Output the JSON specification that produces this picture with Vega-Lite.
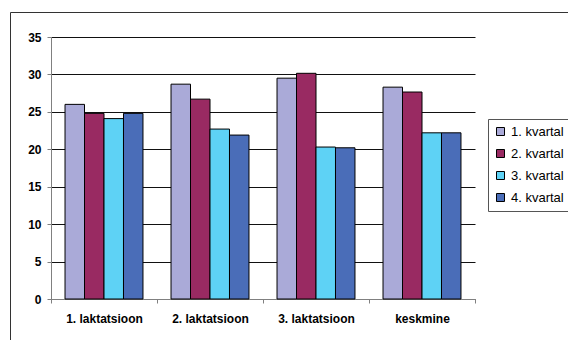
{
  "$schema": "https://vega.github.io/schema/vega-lite/v6.json",
  "width": 600,
  "height": 360,
  "autosize": {"type": "none"},
  "padding": {"left": 10, "top": 12, "right": 0, "bottom": 0},
  "background": "white",
  "config": {
    "view": {"stroke": "#333333", "strokeWidth": 1},
    "font": "Liberation Sans"
  },
  "data": {
    "values": [
      {"grupp": "1. laktatsioon", "kvartal": "1. kvartal", "vaartus": 26.0},
      {"grupp": "1. laktatsioon", "kvartal": "2. kvartal", "vaartus": 24.8},
      {"grupp": "1. laktatsioon", "kvartal": "3. kvartal", "vaartus": 24.1},
      {"grupp": "1. laktatsioon", "kvartal": "4. kvartal", "vaartus": 24.8},
      {"grupp": "2. laktatsioon", "kvartal": "1. kvartal", "vaartus": 28.7},
      {"grupp": "2. laktatsioon", "kvartal": "2. kvartal", "vaartus": 26.7},
      {"grupp": "2. laktatsioon", "kvartal": "3. kvartal", "vaartus": 22.7},
      {"grupp": "2. laktatsioon", "kvartal": "4. kvartal", "vaartus": 21.9},
      {"grupp": "3. laktatsioon", "kvartal": "1. kvartal", "vaartus": 29.5},
      {"grupp": "3. laktatsioon", "kvartal": "2. kvartal", "vaartus": 30.15},
      {"grupp": "3. laktatsioon", "kvartal": "3. kvartal", "vaartus": 20.3},
      {"grupp": "3. laktatsioon", "kvartal": "4. kvartal", "vaartus": 20.2},
      {"grupp": "keskmine", "kvartal": "1. kvartal", "vaartus": 28.3},
      {"grupp": "keskmine", "kvartal": "2. kvartal", "vaartus": 27.65},
      {"grupp": "keskmine", "kvartal": "3. kvartal", "vaartus": 22.2},
      {"grupp": "keskmine", "kvartal": "4. kvartal", "vaartus": 22.2}
    ]
  },
  "mark": {"type": "bar", "stroke": "black", "strokeWidth": 1},
  "encoding": {
    "x": {
      "field": "grupp",
      "type": "nominal",
      "sort": null,
      "title": null,
      "scale": {"range": [41, 465], "paddingInner": 0, "paddingOuter": 0},
      "axis": {
        "orient": "bottom",
        "offset": -73,
        "tickBand": "extent",
        "labelAngle": 0,
        "labelFontSize": 12,
        "labelFontWeight": "bold",
        "labelColor": "black",
        "labelPadding": 10,
        "domainColor": "#808080",
        "tickColor": "#808080",
        "tickSize": 4,
        "grid": false
      }
    },
    "xOffset": {
      "field": "kvartal",
      "type": "nominal",
      "scale": {"paddingInner": 0, "paddingOuter": 0.72}
    },
    "y": {
      "field": "vaartus",
      "type": "quantitative",
      "title": null,
      "scale": {"domain": [0, 35], "range": [287, 25], "nice": false},
      "axis": {
        "offset": -41,
        "values": [0, 5, 10, 15, 20, 25, 30, 35],
        "labelFontSize": 12,
        "labelFontWeight": "bold",
        "labelColor": "black",
        "labelPadding": 6,
        "tickSize": 4,
        "tickColor": "#808080",
        "domainColor": "#808080",
        "grid": true,
        "gridColor": "#111111",
        "gridWidth": 1
      }
    },
    "color": {
      "field": "kvartal",
      "type": "nominal",
      "title": null,
      "scale": {"range": ["#AAAAD8", "#992A62", "#5ED2F5", "#4A6DB8"]},
      "legend": {
        "orient": "none",
        "legendX": 478,
        "legendY": 107,
        "fillColor": "white",
        "strokeColor": "#555555",
        "padding": 6,
        "symbolType": "square",
        "symbolSize": 64,
        "symbolStrokeColor": "black",
        "symbolStrokeWidth": 1,
        "symbolOpacity": 1,
        "labelFontSize": 13,
        "labelColor": "black",
        "labelOffset": 4,
        "rowPadding": 8
      }
    }
  }
}
